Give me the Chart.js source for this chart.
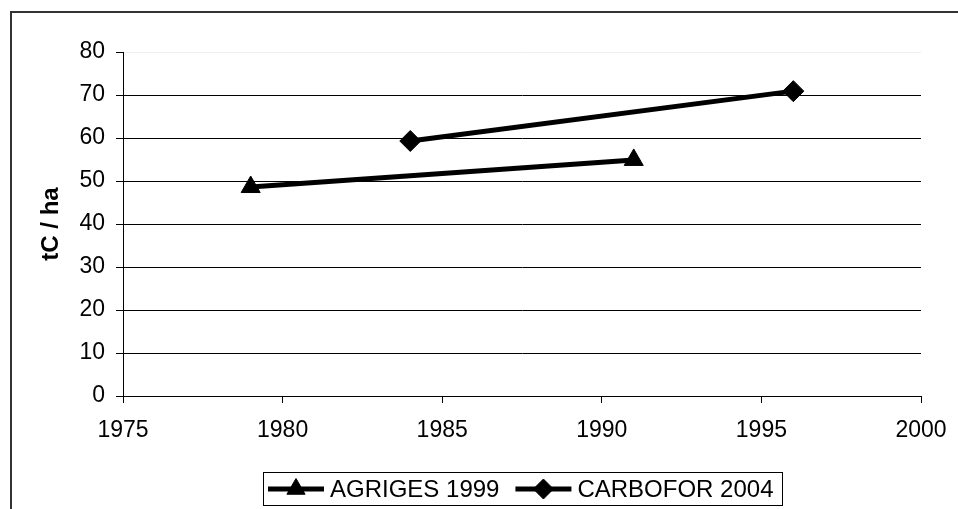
<!DOCTYPE html>
<html>
<head>
<meta charset="utf-8">
<script src="https://cdn.jsdelivr.net/npm/chart.js@4/dist/chart.umd.min.js"></script>
<style>
  html, body { margin: 0; padding: 0; background: #fff; overflow: hidden; }
  #wrap { position: relative; width: 958px; height: 509px; overflow: hidden; }
  #frame { position: absolute; left: 10px; top: 11px; width: 1000px; height: 600px;
           border: 2px solid #333; box-sizing: border-box; }
  #c { position: absolute; left: 0; top: 0; }
</style>
</head>
<body>
<div id="wrap">
  <div id="frame"></div>
  <canvas id="c" width="958" height="509"></canvas>
</div>
<script>
// Carbon stock per hectare by survey year
const yearTicks = [1975, 1980, 1985, 1990, 1995, 2000];
const stockTicks = [0, 10, 20, 30, 40, 50, 60, 70, 80];

const agrigesYears = [1979, 1991];
const agrigesStock = [48.6, 54.9];

const carboforYears = [1984, 1996];
const carboforStock = [59.3, 70.9];

const seriesNames = ['AGRIGES 1999', 'CARBOFOR 2004'];
const yTitle = 'tC / ha';

const FONT = 'Liberation Sans, Arial, sans-serif';

const toPoints = (xs, ys) => xs.map((x, i) => ({ x: x, y: ys[i] }));

// Boxed legend below the plot: line sample with its marker, then the label
const boxedLegend = {
  id: 'boxedLegend',
  afterDraw(chart) {
    const ctx = chart.ctx;
    const area = chart.chartArea;
    ctx.save();
    ctx.font = '24px ' + FONT;
    const sample = 56, gapAfterSample = 6, gapBetween = 16, padL = 5, padR = 9;
    const items = chart.data.datasets.map(ds => ({ ds: ds, w: ctx.measureText(ds.label).width }));
    let total = padL + padR;
    items.forEach((it, i) => { total += sample + gapAfterSample + it.w + (i ? gapBetween : 0); });
    total = Math.round(total);
    const top = 472, h = 33;
    const left = Math.round((area.left + area.right) / 2 - total / 2);
    ctx.strokeStyle = '#000';
    ctx.lineWidth = 1;
    ctx.strokeRect(left + 0.5, top + 0.5, total, h);
    const cy = top + h / 2 + 0.5;
    let x = left + padL;
    items.forEach((it, i) => {
      if (i) x += gapBetween;
      ctx.strokeStyle = it.ds.borderColor;
      ctx.lineWidth = it.ds.borderWidth;
      ctx.beginPath();
      ctx.moveTo(x, cy);
      ctx.lineTo(x + sample, cy);
      ctx.stroke();
      ctx.fillStyle = it.ds.pointBackgroundColor;
      ctx.strokeStyle = it.ds.pointBorderColor;
      ctx.lineWidth = 1;
      Chart.helpers.drawPoint(ctx, {
        pointStyle: it.ds.pointStyle, rotation: 0, borderWidth: 1, radius: it.ds.pointRadius - 0.5
      }, x + sample / 2, cy);
      x += sample + gapAfterSample;
      ctx.fillStyle = '#000';
      ctx.textBaseline = 'middle';
      ctx.textAlign = 'left';
      ctx.fillText(it.ds.label, x, cy + 1);
      x += it.w;
    });
    ctx.restore();
  }
};

new Chart(document.getElementById('c'), {
  type: 'line',
  data: {
    datasets: [
      {
        label: seriesNames[0],
        data: toPoints(agrigesYears, agrigesStock),
        borderColor: '#000', borderWidth: 5,
        pointStyle: 'triangle', pointRadius: 11,
        pointBackgroundColor: '#000', pointBorderColor: '#000', pointBorderWidth: 1
      },
      {
        label: seriesNames[1],
        data: toPoints(carboforYears, carboforStock),
        borderColor: '#000', borderWidth: 5,
        pointStyle: 'rectRot', pointRadius: 10.5,
        pointBackgroundColor: '#000', pointBorderColor: '#000', pointBorderWidth: 1
      }
    ]
  },
  options: {
    responsive: false,
    animation: false,
    devicePixelRatio: 1,
    layout: { padding: { left: 0, top: 52, right: 37, bottom: 0 } },
    plugins: { legend: { display: false }, tooltip: { enabled: false } },
    scales: {
      x: {
        type: 'linear',
        min: yearTicks[0], max: yearTicks[yearTicks.length - 1],
        afterBuildTicks(scale) { scale.ticks = yearTicks.map(v => ({ value: v })); },
        afterFit(scale) { scale.height = 113; scale.paddingLeft = 0; scale.paddingRight = 0; },
        grid: { drawOnChartArea: false, drawTicks: true, tickLength: 7, color: '#000', tickColor: '#000' },
        border: { display: true, color: '#000', width: 1 },
        ticks: { color: '#000', font: { family: FONT, size: 23 }, padding: 14, maxRotation: 0,
                 callback: v => String(v) }
      },
      y: {
        min: stockTicks[0], max: stockTicks[stockTicks.length - 1],
        afterBuildTicks(scale) { scale.ticks = stockTicks.map(v => ({ value: v })); },
        afterFit(scale) { scale.width = 123; },
        grid: {
          drawTicks: true, tickLength: 7, tickColor: '#000',
          color: c => (c.tick && c.tick.value === stockTicks[stockTicks.length - 1]) ? '#eeeeee' : '#000'
        },
        border: { display: true, color: '#000', width: 1 },
        ticks: { color: '#000', font: { family: FONT, size: 23 }, padding: 11,
                 callback: v => String(v) },
        title: { display: true, text: yTitle, color: '#000',
                 font: { family: FONT, size: 24, weight: 'bold' },
                 padding: { top: 37, bottom: 0 } }
      }
    }
  },
  plugins: [boxedLegend]
});
</script>
</body>
</html>
